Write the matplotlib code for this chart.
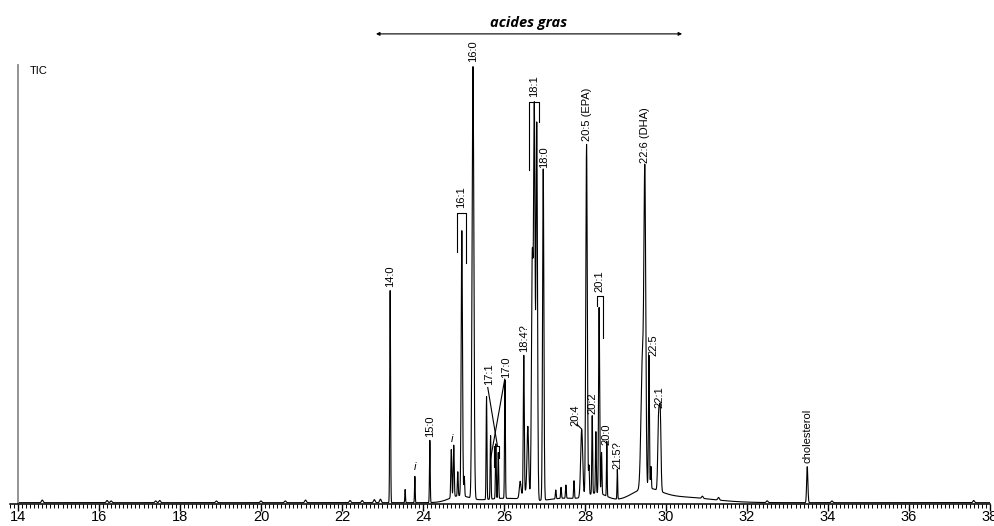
import numpy as np
import matplotlib
matplotlib.use('Agg')
import matplotlib.pyplot as plt
from matplotlib.ticker import MultipleLocator

plt.rcParams['font.family'] = ['Liberation Sans', 'DejaVu Sans']

# main peaks: retention time (min), height (% of 16:0), width (min)
peak_rt = [23.19, 23.56, 23.80, 24.17, 24.70, 24.76, 24.86, 24.96, 25.02, 25.235,
           25.57, 25.67, 25.80, 25.86, 26.025, 26.40, 26.49, 26.59, 26.70, 26.75,
           26.81, 26.97, 27.28, 27.41, 27.53, 27.73, 27.92, 28.04, 28.10, 28.18,
           28.27, 28.35, 28.41, 28.54, 28.80, 29.42, 29.48, 29.58, 29.63, 29.82,
           29.86, 33.49]
peak_height = [48.4, 3.0, 6.0, 14.2, 11.0, 11.8, 5.5, 60.5, 4.5, 98.6,
               23.5, 14.5, 12.5, 10.5, 27.0, 3.5, 31.3, 15.0, 55.0, 88.0,
               86.0, 75.6, 2.0, 2.5, 3.0, 4.0, 15.5, 80.2, 6.5, 17.8,
               14.0, 42.4, 9.5, 12.5, 6.8, 30.0, 67.0, 30.3, 5.0, 17.0,
               17.0, 8.2]
peak_sigma = [0.010, 0.008, 0.008, 0.009, 0.012, 0.012, 0.010, 0.016, 0.010, 0.022,
              0.010, 0.010, 0.010, 0.010, 0.010, 0.020, 0.012, 0.020, 0.020, 0.018,
              0.018, 0.016, 0.010, 0.010, 0.010, 0.010, 0.025, 0.018, 0.010, 0.010,
              0.010, 0.013, 0.010, 0.008, 0.008, 0.035, 0.022, 0.012, 0.010, 0.020,
              0.018, 0.015]

# small baseline bumps
minor_rt = [14.6, 16.2, 16.3, 17.4, 17.5, 18.9, 20.0, 20.6, 21.1, 22.2, 22.5,
            22.8, 22.95, 30.9, 31.3, 32.5, 34.1, 37.6]
minor_height = [0.6, 0.5, 0.4, 0.4, 0.5, 0.4, 0.4, 0.4, 0.6, 0.5, 0.5,
                0.7, 0.8, 0.5, 0.6, 0.4, 0.4, 0.5]

# broad humps under the fatty acid region
hump_rt = [24.9, 26.0, 26.55, 27.5, 28.3, 29.5, 30.3]
hump_height = [1.5, 1.0, 2.0, 1.0, 2.0, 2.5, 1.3]
hump_sigma = [0.25, 0.5, 0.1, 0.4, 0.25, 0.35, 0.8]
baseline_level = 0.3

# labels: text, x, y (bottom of text)
labels = [('14:0', 23.19, 49.5), ('15:0', 24.17, 15.2), ('16:1', 24.95, 67.6),
          ('16:0', 25.235, 100.8), ('17:1', 25.63, 27.2), ('17:0', 26.05, 28.8),
          ('18:4?', 26.49, 34.6), ('18:1', 26.74, 92.8), ('18:0', 26.98, 76.8),
          ('20:4', 27.76, 17.8), ('20:5 (EPA)', 28.04, 82.8), ('20:2', 28.19, 20.6),
          ('20:1', 28.36, 48.5), ('20:0', 28.54, 13.5), ('21:5?', 28.80, 7.9),
          ('22:6 (DHA)', 29.48, 77.8), ('22:5', 29.68, 33.8), ('22:1', 29.83, 21.8),
          ('cholesterol', 33.49, 9.4)]

t = np.linspace(13.8, 38.0, 4841)
signal = np.full_like(t, baseline_level)
for rt, h, s in zip(peak_rt, peak_height, peak_sigma):
    signal += h * np.exp(-0.5 * ((t - rt) / s) ** 2)
for rt, h in zip(minor_rt, minor_height):
    signal += h * np.exp(-0.5 * ((t - rt) / 0.02) ** 2)
for rt, h, s in zip(hump_rt, hump_height, hump_sigma):
    signal += h * np.exp(-0.5 * ((t - rt) / s) ** 2)
signal[t < 14.0] = np.nan

fig = plt.figure(figsize=(9.95, 5.26), dpi=100)
ax = fig.add_axes([9.9 / 995, 22 / 526, 980 / 995, 439 / 526])
ax.plot(t, signal, color='black', lw=0.8)
ax.set_xlim(13.8, 38.0)
ax.set_ylim(0, 100.2)

ax.spines['top'].set_visible(False)
ax.spines['right'].set_visible(False)
ax.spines['left'].set_position(('data', 14))
ax.spines['left'].set_color('#8a8a8a')
ax.spines['left'].set_linewidth(1.3)
ax.spines['bottom'].set_linewidth(1.1)
ax.set_yticks([])
ax.xaxis.set_major_locator(MultipleLocator(2))
ax.xaxis.set_minor_locator(MultipleLocator(0.1))
ax.tick_params(axis='x', which='major', length=5, width=1, labelsize=10.5, pad=-1)
ax.tick_params(axis='x', which='minor', length=3, width=0.7)

ax.text(0.0205, 0.998, 'TIC', transform=ax.transAxes, fontsize=8, va='top')

for txt, x, y in labels:
    ax.text(x, y, txt, rotation=90, ha='center', va='bottom', fontsize=8)

# italic i labels
ax.text(23.80, 7.4, 'i', style='italic', ha='center', va='bottom', fontsize=8)
ax.text(24.72, 13.6, 'i', style='italic', ha='center', va='bottom', fontsize=8)

# brackets
lk = dict(color='black', lw=0.8)
ax.plot([24.84, 24.84, 25.06, 25.06], [57.5, 66.4, 66.4, 55.0], **lk)
ax.plot([26.62, 26.62, 26.86, 26.86], [76.3, 91.8, 91.8, 87.2], **lk)
ax.plot([28.29, 28.29, 28.44, 28.44], [45.2, 47.5, 47.5, 37.9], **lk)
ax.plot([25.75, 25.75, 25.88, 25.88], [8.5, 13.2, 13.2, 10.5], **lk)
# 17:1 / 17:0 leader lines
ax.plot([25.60, 25.84], [26.6, 13.2], **lk)
ax.plot([26.02, 25.67], [28.5, 10.3], **lk)
ax.plot([27.91, 27.80], [17.2, 18.2], **lk)

# acides gras arrow
ax.annotate('', xy=(22.84, 107.3), xytext=(30.40, 107.3), xycoords='data',
            arrowprops=dict(arrowstyle='<|-|>', color='black', lw=0.8,
                            mutation_scale=5, shrinkA=0, shrinkB=0),
            annotation_clip=False)
ax.text(26.6, 108.9, 'acides gras', ha='center', va='baseline', fontsize=10.5,
        fontweight='bold', style='italic', family=['Open Sans', 'DejaVu Sans'])

fig.savefig('out.png', dpi=100)
